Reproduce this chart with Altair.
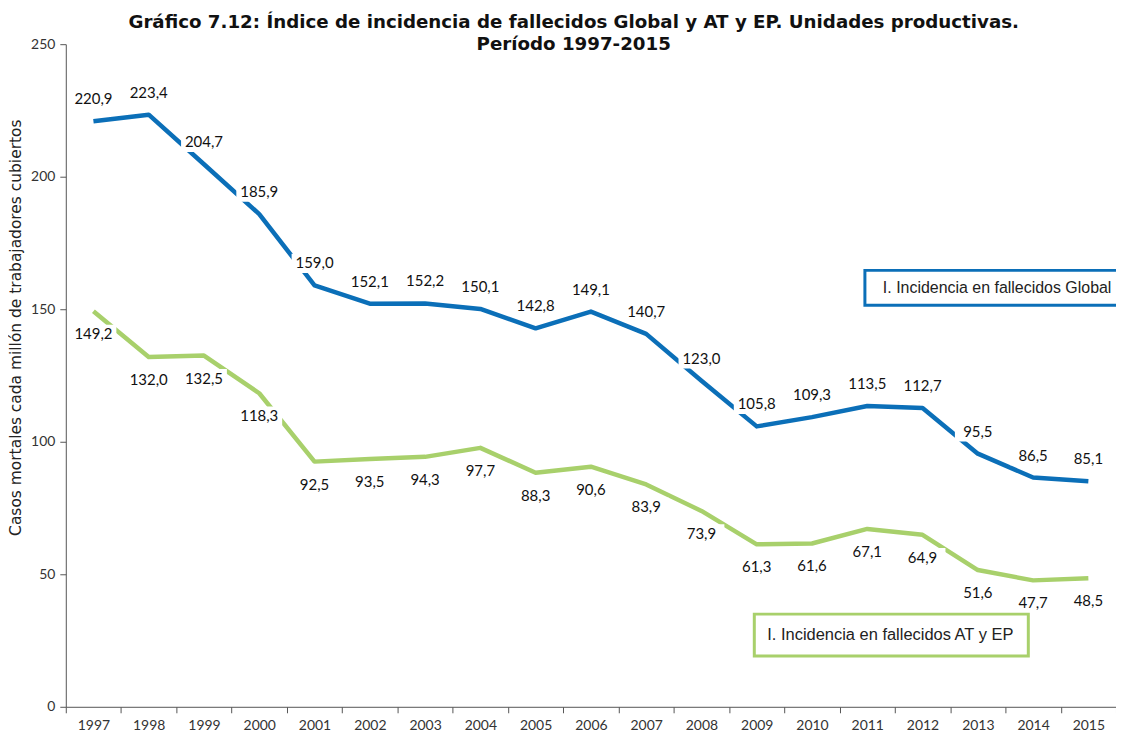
import altair as alt
import pandas as pd

years = [str(y) for y in range(1997, 2016)]
global_vals = [220.9, 223.4, 204.7, 185.9, 159.0, 152.1, 152.2, 150.1, 142.8, 149.1,
               140.7, 123.0, 105.8, 109.3, 113.5, 112.7, 95.5, 86.5, 85.1]
atep_vals = [149.2, 132.0, 132.5, 118.3, 92.5, 93.5, 94.3, 97.7, 88.3, 90.6,
             83.9, 73.9, 61.3, 61.6, 67.1, 64.9, 51.6, 47.7, 48.5]
series_names = ["I. Incidencia en fallecidos Global", "I. Incidencia en fallecidos AT y EP"]
colors = ["#0B6FB8", "#A8D06B"]

rows = []
for name, vals in zip(series_names, [global_vals, atep_vals]):
    for y, v in zip(years, vals):
        rows.append({"year": y, "value": v, "series": name,
                     "label": f"{v:.1f}".replace(".", ",")})
df = pd.DataFrame(rows)

FONT = "Lato"

x_enc = alt.X("year:O", bandPosition=0.5,
              scale=alt.Scale(type="band", paddingInner=0, paddingOuter=0),
              axis=alt.Axis(title=None, labelAngle=0, tickBand="extent", tickSize=6,
                            labelPadding=6, labelFont=FONT, labelFontSize=14,
                            labelFontWeight="normal",
                            labelColor="#333", domainColor="#555", tickColor="#555"))
y_enc = alt.Y("value:Q", scale=alt.Scale(domain=[0, 250], nice=False),
              axis=alt.Axis(values=[0, 50, 100, 150, 200, 250], grid=False, tickSize=6,
                            labelPadding=5, labelFont=FONT, labelFontSize=14,
                            labelColor="#333", domainColor="#555", tickColor="#555",
                            title="Casos mortales cada millón de trabajadores cubiertos",
                            titleFont="DejaVu Sans", titleFontSize=15.5, titleFontWeight="normal",
                            titleColor="#222", titleAngle=270, titleX=-50, titleY=284,
                            titleAlign="center", titleBaseline="middle"))
color_enc = alt.Color("series:N", scale=alt.Scale(domain=series_names, range=colors), legend=None)

base = alt.Chart(df)

lines = base.mark_line(strokeWidth=4.5, strokeJoin="round").encode(
    x=x_enc, y=y_enc, color=color_enc, detail="series:N")

box_shape = "M-1,-0.42L1,-0.42L1,0.42L-1,0.42Z"
layers = [lines]
for name, off in zip(series_names, [-22, 23]):
    sub = base.transform_filter(alt.datum.series == name)
    layers.append(sub.mark_point(shape=box_shape, size=46 * 46, filled=True, fill="white",
                                 opacity=1, strokeWidth=0, yOffset=off).encode(
        x=alt.X("year:O", bandPosition=0.5), y="value:Q"))
    layers.append(sub.mark_text(font=FONT, fontSize=15, color="#111", dy=off,
                                baseline="middle", align="center").encode(
        x=alt.X("year:O", bandPosition=0.5), y="value:Q", text="label:N"))

# legend-like annotation boxes
leg1 = pd.DataFrame({"t": [series_names[0]]})
leg2 = pd.DataFrame({"t": [series_names[1]]})
box1 = alt.Chart(leg1).mark_rect(fill="white", stroke=colors[0], strokeWidth=3).encode(
    x=alt.value(802), x2=alt.value(1075), y=alt.value(227), y2=alt.value(262))
txt1 = alt.Chart(leg1).mark_text(font="Liberation Sans", fontSize=16, color="#222",
                                 align="left", baseline="middle").encode(
    x=alt.value(820), y=alt.value(245), text="t:N")
box2 = alt.Chart(leg2).mark_rect(fill="white", stroke=colors[1], strokeWidth=3).encode(
    x=alt.value(691), x2=alt.value(966), y=alt.value(572), y2=alt.value(614))
txt2 = alt.Chart(leg2).mark_text(font="Liberation Sans", fontSize=16.5, color="#222",
                                 align="left", baseline="middle").encode(
    x=alt.value(704), y=alt.value(593), text="t:N")

chart = alt.layer(*layers, box1, txt1, box2, txt2).properties(
    width=1054, height=665,
    title=alt.TitleParams(
        text=["Gráfico 7.12: Índice de incidencia de fallecidos Global y AT y EP.  Unidades productivas.",
              "Período 1997-2015"],
        font="DejaVu Sans", fontSize=18.3, fontWeight="bold", color="#111", anchor="middle",
        frame="bounds", offset=-17, lineHeight=22),
    autosize=alt.AutoSizeParams(type="none"),
    padding={"left": 58, "top": 35, "right": 0, "bottom": 30},
).configure_view(stroke=None)

chart.save("out.html", embed_options={"renderer": "svg", "actions": False})
